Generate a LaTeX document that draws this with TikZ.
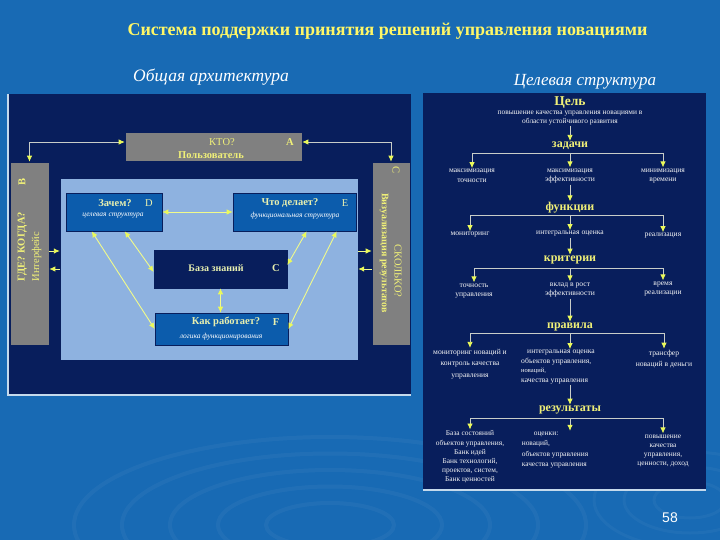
\documentclass[tikz,border=0pt]{standalone}
\usepackage{fontspec}
\setmainfont{Liberation Serif}
\newfontfamily\numfont{Liberation Sans}
\usetikzlibrary{arrows.meta}
\definecolor{bgblue}{RGB}{24,106,180}
\definecolor{navy}{RGB}{8,30,92}
\definecolor{boxgray}{RGB}{128,128,128}
\definecolor{lightpanel}{RGB}{142,178,224}
\definecolor{midblue}{RGB}{12,92,172}
\definecolor{ytext}{RGB}{240,240,120}
\definecolor{ltext}{RGB}{232,240,176}
\definecolor{arrowy}{RGB}{235,250,90}
\definecolor{linegray}{RGB}{200,205,200}
\tikzset{
  >={Latex[length=6pt,width=5.5pt,color=arrowy]},
  box/.style={draw=navy, line width=0.6pt, inner sep=0pt},
  graybox/.style={box, fill=boxgray},
  bluebox/.style={box, fill=midblue},
  kbbox/.style={box, fill=navy},
  txt/.style={inner sep=0.5pt, text=ytext},
  conn/.style={draw=linegray, line width=0.8pt},
  yconn/.style={draw=arrowy!70!white, line width=0.9pt},
  body/.style={inner sep=1pt, text=white!92!gray, font=\fontsize{7.6}{9.6}\selectfont, align=center},
  head/.style={inner sep=1pt, text=ytext, font=\fontsize{12}{13}\selectfont\bfseries},
}
\begin{document}
\begin{tikzpicture}[x=1pt,y=-1pt]
\fill[bgblue] (0,0) rectangle (720,540);
\useasboundingbox (0,0) rectangle (720,540);
% ripples
\foreach \r in {40,70,100,130,160}{
  \draw[white, opacity=0.04, line width=4pt] (330,525) ellipse ({\r*1.6} and {\r*0.55});
}
\foreach \r in {30,55,80}{
  \draw[white, opacity=0.035, line width=3pt] (690,500) ellipse ({\r*1.2} and {\r*0.6});
}
% titles
\node[txt, text=yellow!60!white, font=\fontsize{18}{20}\selectfont\bfseries] (title) at (387.5,31) {Система поддержки принятия решений управления новациями};
\node[inner sep=0pt, text=white, font=\fontsize{17.5}{19}\selectfont\itshape] (sub1) at (211,77) {Общая архитектура};
\node[inner sep=0pt, text=white, font=\fontsize{17}{19}\selectfont\itshape] (sub2) at (585,82) {Целевая структура};

% ===== left panel =====
\fill[navy] (8,94) rectangle (411,395);
\draw[white!75!bgblue, line width=1.6pt] (8,94) -- (8,395) -- (411,395);

\node[graybox, minimum width=177pt, minimum height=29pt] (A) at (213.5,146.5) {};
\node[graybox, minimum width=39pt, minimum height=183pt] (B) at (29.5,253.5) {};
\node[graybox, minimum width=38pt, minimum height=183pt] (C) at (391,253.5) {};
\node[draw=navy, fill=lightpanel, minimum width=298pt, minimum height=182pt, inner sep=0pt] (inner) at (209,269) {};
\node[bluebox, minimum width=96pt, minimum height=38pt] (D) at (114,212) {};
\node[bluebox, minimum width=123pt, minimum height=38pt] (E) at (294.5,212) {};
\node[kbbox, minimum width=133pt, minimum height=38pt] (KB) at (220.5,269) {};
\node[bluebox, minimum width=133pt, minimum height=32pt] (F) at (221.5,329) {};

% texts in A
\node[txt, font=\fontsize{10.5}{12}\selectfont] (Aq) at (222,142) {КТО?};
\node[txt, font=\fontsize{10.5}{12}\selectfont\bfseries] (Al) at (290,142) {A};
\node[txt, font=\fontsize{10.5}{12}\selectfont\bfseries] (At) at (211,155) {Пользователь};
% texts in B
\node[txt, rotate=90, font=\fontsize{10.5}{12}\selectfont\bfseries] (Bl) at (22,182) {В};
\node[txt, rotate=90, anchor=west, align=left, font=\fontsize{10.5}{14.5}\selectfont] (Bt) at (29.5,282) {\textbf{ГДЕ? КОГДА?}\\Интерфейс};
% texts in C
\node[txt, rotate=-90, font=\fontsize{10.5}{12}\selectfont] (Cl) at (396,170) {С};
\node[txt, rotate=-90, font=\fontsize{10.5}{12}\selectfont] (Cq) at (398,271) {СКОЛЬКО?};
\node[txt, rotate=-90, font=\fontsize{10}{12}\selectfont\bfseries] (Ct) at (384,253) {Визуализация результатов};
% D, E, KB, F texts
\node[txt, text=ltext, font=\fontsize{10.5}{12}\selectfont\bfseries] (Dq) at (115,203) {Зачем?};
\node[txt, text=ltext, font=\fontsize{10.5}{12}\selectfont] (Dl) at (149,203) {D};
\node[txt, text=white, font=\fontsize{7.5}{9}\selectfont\itshape] (Ds) at (113,216) {целевая структура};
\node[txt, text=ltext, font=\fontsize{10.5}{12}\selectfont\bfseries] (Eq) at (290,203) {Что делает?};
\node[txt, text=ltext, font=\fontsize{10.5}{12}\selectfont] (El) at (345,203) {E};
\node[txt, text=white, font=\fontsize{7.5}{9}\selectfont\itshape] (Es) at (295,216) {функциональная структура};
\node[txt, text=ltext, font=\fontsize{10}{12}\selectfont\bfseries] (KBt) at (216,268) {База знаний};
\node[txt, text=ltext, font=\fontsize{10.5}{12}\selectfont\bfseries] (KBl) at (276,268) {C};
\node[txt, text=ltext, font=\fontsize{10.5}{12}\selectfont\bfseries] (Ft) at (226,322) {Как работает?};
\node[txt, text=ltext, font=\fontsize{10.5}{12}\selectfont\bfseries] (Fl) at (276,322) {F};
\node[txt, text=white, font=\fontsize{7.5}{9}\selectfont\itshape] (Fs) at (221,337) {логика функционирования};

% outer connectors
\draw[conn, <->] (B.north) |- ([yshift=4.5pt]A.west);
\draw[conn, <->] (C.north) |- ([yshift=4.5pt]A.east);
\coordinate (ya) at (0,251);
\coordinate (yb) at (0,269);
\draw[yconn, ->] (B.east |- ya) -- (inner.west |- ya);
\draw[yconn, ->] (inner.west |- yb) -- (B.east |- yb);
\draw[yconn, ->] (inner.east |- ya) -- (C.west |- ya);
\draw[yconn, ->] (C.west |- yb) -- (inner.east |- yb);
% inner connectors
\draw[yconn, <->] (D.east) -- (E.west);
\draw[yconn, <->] (KB.south) -- (KB.south |- F.north);
\draw[yconn, <->] ([xshift=26pt]D.south west) -- (F.west);
\draw[yconn, <->] ([xshift=59pt]D.south west) -- ([yshift=-3pt]KB.west);
\draw[yconn, <->] ([xshift=74pt]E.south west) -- ([yshift=4pt]KB.east);
\draw[yconn, <->] ([xshift=104pt]E.south west) -- (F.east);

% ===== right panel =====
\fill[navy] (423,93) rectangle (706,490);
\draw[white!75!bgblue, line width=1.6pt] (423,490) -- (706,490);

\node[head, font=\fontsize{13.5}{14}\selectfont\bfseries] (goal) at (570,103) {Цель};
\node[body, font=\fontsize{7.4}{8.4}\selectfont] (goaltxt) at (570,118) {повышение качества управления новациями в\\области устойчивого развития};
\node[head] (tasks) at (570,146) {задачи};
\node[body] (t1) at (472,176) {максимизация\\точности};
\node[body] (t2) at (570,176) {максимизация\\эффективности};
\node[body] (t3) at (663,176) {минимизация\\времени};
\node[head] (func) at (570,208) {функции};
\node[body] (f1) at (470,235) {мониторинг};
\node[body] (f2) at (570,234) {интегральная оценка};
\node[body] (f3) at (663,236) {реализация};
\node[head] (crit) at (570,260) {критерии};
\node[body] (c1) at (474,291) {точность\\управления};
\node[body] (c2) at (570,290) {вклад в рост\\эффективности};
\node[body] (c3) at (663,289) {время\\реализации};
\node[head] (rules) at (570,327) {правила};
\node[body, font=\fontsize{7.6}{11.5}\selectfont] (r1) at (470,364) {мониторинг новаций и\\контроль качества\\управления};
\node[body, align=left, font=\fontsize{7.6}{9.4}\selectfont] (r2) at (558,367) {\hspace*{6pt}интегральная оценка\\объектов управления,\\{\fontsize{6.5}{8}\selectfont новаций,}\\качества управления};
\node[body, font=\fontsize{7.6}{11.5}\selectfont] (r3) at (664,359) {трансфер\\новаций в деньги};
\node[head] (res) at (570,410) {результаты};
\node[body, font=\fontsize{7.4}{9.2}\selectfont] (s1) at (470,457) {База состояний\\объектов управления,\\Банк идей\\Банк технологий,\\проектов, систем,\\Банк ценностей};
\node[body, align=left, font=\fontsize{7.4}{10.3}\selectfont] (s2) at (555,450) {\hspace*{12pt}оценки:\\новаций,\\объектов управления\\качества управления};
\node[body, font=\fontsize{7.4}{9.3}\selectfont] (s3) at (663,451) {повышение\\качества\\управления,\\ценности, доход};

% tree connectors
\coordinate (bt) at (570,153);
\coordinate (bf) at (570,215);
\coordinate (bc) at (570,268);
\coordinate (br) at (570,333);
\coordinate (bs) at (570,418);
\draw[conn, ->] (goaltxt.south) -- (tasks.north);
\draw[conn, ->] (t2.south) -- (func.north);
\draw[conn, ->] (f2.south) -- (crit.north);
\draw[conn, ->] (c2.south) -- (rules.north);
\draw[conn, ->] (bs |- r2.south) -- (res.north);
\foreach \b/\x/\y/\z in {bt/t1/t2/t3, bf/f1/f2/f3, bc/c1/c2/c3, br/r1/r2/r3, bs/s1/s2/s3}{
  \draw[conn] (\b -| \x.north) -- (\b -| \z.north);
  \draw[conn, ->] (\b -| \x.north) -- (\x.north);
  \draw[conn, ->] (\b) -- (\b |- \y.north);
  \draw[conn, ->] (\b -| \z.north) -- (\z.north);
}

\node[inner sep=0pt, text=white, font=\numfont\fontsize{14}{16}\selectfont] (page) at (670,518) {58};
\end{tikzpicture}
\end{document}
